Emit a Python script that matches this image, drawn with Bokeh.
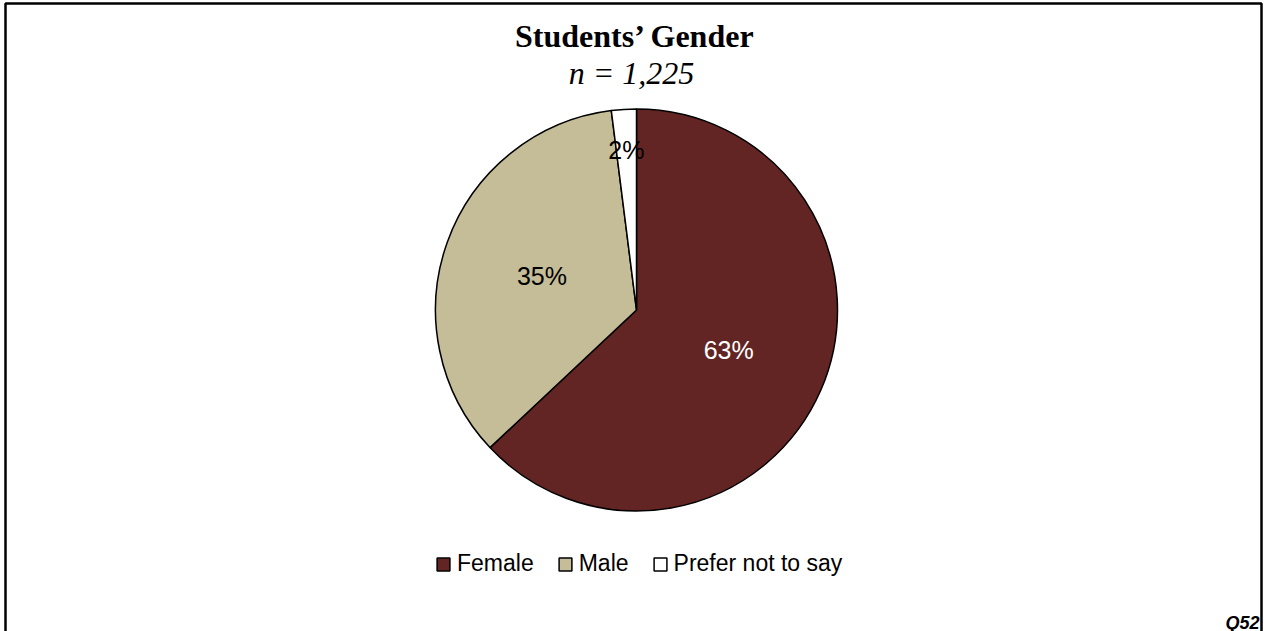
import math
from bokeh.plotting import figure
from bokeh.models import ColumnDataSource, Label, Legend, LegendItem, BoxAnnotation, Range1d
from bokeh.core.properties import value
from bokeh.embed import file_html
from bokeh.resources import INLINE

# ---- data ----
categories = ["Female", "Male", "Prefer not to say"]
percentages = [63, 35, 2]
slice_colors = ["#632523", "#C4BD97", "#FFFFFF"]
label_colors = ["#FFFFFF", "#000000", "#000000"]
title_text = "Students\u2019 Gender"
subtitle_text = "n = 1,225"
question_id = "Q52"

# ---- layout constants ----
W, H = 1268, 631
CX, CY = 636, H - 309.5
R = 201
label_frac = [0.5, 0.5, 0.8]
SANS = "Liberation Sans"

total = sum(percentages)
starts, ends = [], []
acc = 0
for v in percentages:
    starts.append(math.pi / 2 - 2 * math.pi * acc / total)
    acc += v
    ends.append(math.pi / 2 - 2 * math.pi * acc / total)
mids = [(s + e) / 2 for s, e in zip(starts, ends)]
lx = [CX + R * f * math.cos(m) for f, m in zip(label_frac, mids)]
ly = [CY + R * f * math.sin(m) for f, m in zip(label_frac, mids)]

src = ColumnDataSource(dict(
    cat=categories, pct=percentages, color=slice_colors,
    start=starts, end=ends, lx=lx, ly=ly,
    txt=[f"{v}%" for v in percentages], tcolor=label_colors,
))

p = figure(width=W, height=H, x_range=Range1d(0, W), y_range=Range1d(0, H),
           output_backend="svg", toolbar_location=None, min_border=0)
p.axis.visible = False
p.grid.visible = False
p.outline_line_color = None
p.background_fill_color = "white"

r = p.wedge(x=CX, y=CY, radius=R, start_angle="start", end_angle="end",
            direction="clock", fill_color="color", line_color="black",
            line_width=1.5, source=src)

p.text(x="lx", y="ly", text="txt", text_color="tcolor", source=src,
       text_align="center", text_baseline="middle",
       text_font=value(SANS), text_font_size="25px")

legend = Legend(items=[LegendItem(label=c, renderers=[r], index=i) for i, c in enumerate(categories)],
                orientation="horizontal", location=(435, H - 577),
                glyph_width=16, glyph_height=16, label_standoff=6, spacing=23,
                padding=0, margin=0, border_line_color=None, background_fill_alpha=0,
                label_text_font=SANS, label_text_font_size="23px",
                label_text_color="black", label_height=20)
p.add_layout(legend)

p.add_layout(Label(x=635, y=H - 35, text=title_text, text_align="center",
                   text_baseline="alphabetic", text_font="Liberation Serif",
                   text_font_style="bold", text_font_size="32px", text_color="black"))
p.add_layout(Label(x=631, y=H - 72, text=subtitle_text, text_align="center",
                   text_baseline="alphabetic", text_font="Liberation Serif",
                   text_font_style="italic", text_font_size="32px", text_color="black"))
p.add_layout(Label(x=1259, y=H - 622, text=question_id, text_align="right",
                   text_baseline="alphabetic", text_font=SANS,
                   text_font_style="bold italic", text_font_size="18px", text_color="black"))

p.add_layout(BoxAnnotation(left=5, right=1261, top=H - 3, bottom=-20,
                           fill_alpha=0, line_color="black", line_alpha=1.0, line_width=2.5))

open("out.html", "w").write(file_html(p, INLINE))
